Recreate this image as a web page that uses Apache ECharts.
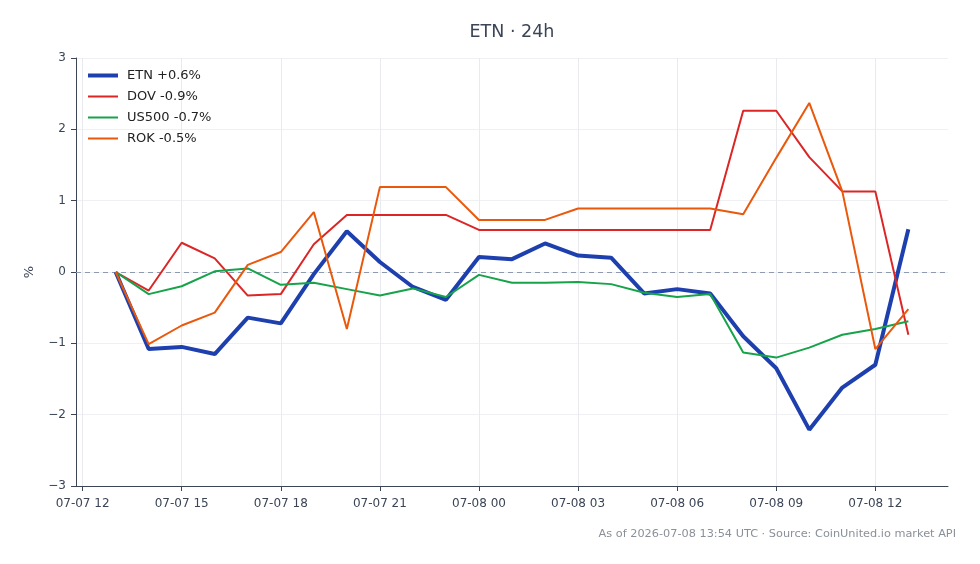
<!DOCTYPE html>
<html>
<head>
<meta charset="utf-8">
<script src="https://cdn.jsdelivr.net/npm/echarts@6/dist/echarts.min.js"></script>
<style>
html,body{margin:0;padding:0;background:#fff;}
#chart{width:980px;height:564px;}
</style>
</head>
<body>
<div id="chart"></div>
<script>
// Hourly timestamps (UTC)
const times = [
  '2026-07-07T13:00:00Z','2026-07-07T14:00:00Z','2026-07-07T15:00:00Z','2026-07-07T16:00:00Z',
  '2026-07-07T17:00:00Z','2026-07-07T18:00:00Z','2026-07-07T19:00:00Z','2026-07-07T20:00:00Z',
  '2026-07-07T21:00:00Z','2026-07-07T22:00:00Z','2026-07-07T23:00:00Z','2026-07-08T00:00:00Z',
  '2026-07-08T01:00:00Z','2026-07-08T02:00:00Z','2026-07-08T03:00:00Z','2026-07-08T04:00:00Z',
  '2026-07-08T05:00:00Z','2026-07-08T06:00:00Z','2026-07-08T07:00:00Z','2026-07-08T08:00:00Z',
  '2026-07-08T09:00:00Z','2026-07-08T10:00:00Z','2026-07-08T11:00:00Z','2026-07-08T12:00:00Z',
  '2026-07-08T13:00:00Z'
];
const etn   = [0,-1.08,-1.05,-1.15,-0.64,-0.72,-0.03,0.57,0.14,-0.21,-0.39,0.21,0.18,0.40,0.23,0.20,-0.30,-0.24,-0.30,-0.90,-1.35,-2.21,-1.62,-1.30,0.60];
const dov   = [0,-0.26,0.41,0.19,-0.33,-0.31,0.39,0.80,0.80,0.80,0.80,0.59,0.59,0.59,0.59,0.59,0.59,0.59,0.59,2.26,2.26,1.61,1.13,1.13,-0.88];
const us500 = [0,-0.31,-0.20,0.01,0.05,-0.18,-0.15,-0.24,-0.33,-0.23,-0.35,-0.04,-0.15,-0.15,-0.14,-0.17,-0.29,-0.35,-0.31,-1.13,-1.20,-1.06,-0.88,-0.80,-0.69];
const rok   = [0,-1.01,-0.75,-0.57,0.10,0.28,0.84,-0.80,1.19,1.19,1.19,0.73,0.73,0.73,0.89,0.89,0.89,0.89,0.89,0.81,1.60,2.37,1.13,-1.08,-0.52];
const seriesNames = ['ETN +0.6%','DOV -0.9%','US500 -0.7%','ROK -0.5%'];
const xTickLabels = ['07-07 12','07-07 15','07-07 18','07-07 21','07-08 00','07-08 03','07-08 06','07-08 09','07-08 12'];
const xTickTimes = ['2026-07-07T12:00:00Z','2026-07-07T15:00:00Z','2026-07-07T18:00:00Z','2026-07-07T21:00:00Z','2026-07-08T00:00:00Z','2026-07-08T03:00:00Z','2026-07-08T06:00:00Z','2026-07-08T09:00:00Z','2026-07-08T12:00:00Z'];
const yTicks = [-3,-2,-1,0,1,2,3];

// convert to hours since 2026-07-07 00:00 UTC
const BASE = Date.parse('2026-07-07T00:00:00Z');
const toH = t => (Date.parse(t) - BASE) / 3600000;
const hs = times.map(toH);
const tickHs = xTickTimes.map(toH);
const span = hs[hs.length-1] - hs[0];
const xMin = hs[0] - span*0.05;
const xMax = hs[hs.length-1] + span*0.05;
const pair = arr => arr.map((v,i) => [hs[i], v]);

const FONT = 'DejaVu Sans';
const colors = ['#1e40af','#dc2626','#16a34a','#ea580c'];
const widths = [4,2,2,2];
const datas = [etn,dov,us500,rok];

const chart = echarts.init(document.getElementById('chart'), null, {renderer:'canvas'});
chart.setOption({
  animation:false,
  textStyle:{fontFamily:FONT},
  legend:{
    orient:'vertical', left:81, top:64, itemWidth:30, itemHeight:14, itemGap:8,
    itemStyle:{opacity:0},
    textStyle:{fontFamily:FONT,fontSize:13,color:'#222',padding:[0,0,0,4]},
    data:seriesNames.map((n,i)=>({name:n, lineStyle:{width:widths[i], color:colors[i]}, itemStyle:{opacity:0}}))
  },
  grid:{left:76,right:32,top:58,bottom:78,containLabel:false},
  xAxis:{
    type:'value', min:xMin, max:xMax,
    axisLine:{show:true,onZero:false,lineStyle:{color:'#3b4556',width:1}},
    axisTick:{show:true,length:5,customValues:tickHs,lineStyle:{color:'#3b4556'}},
    axisLabel:{customValues:tickHs,margin:12,fontFamily:FONT,fontSize:12,color:'#3b4556',
      formatter:function(v){let i=-1;tickHs.forEach((t,k)=>{if(Math.abs(t-v)<1e-6)i=k;});return i>=0?xTickLabels[i]:'';}},
    splitLine:{show:true,lineStyle:{color:'#e8eaef',width:1}}
  },
  yAxis:{
    type:'value', min:-3, max:3, interval:1,
    name:'%', nameLocation:'middle', nameGap:40, nameRotate:90,
    nameTextStyle:{fontFamily:FONT,fontSize:13,color:'#3b4556'},
    axisLine:{show:true,lineStyle:{color:'#3b4556',width:1}},
    axisTick:{show:true,length:5,lineStyle:{color:'#3b4556'}},
    axisLabel:{margin:10,fontFamily:FONT,fontSize:12,color:'#3b4556',
      formatter:function(v){return yTicks.indexOf(v)>=0?String(v).replace('-','\u2212'):'';}},
    splitLine:{show:true,lineStyle:{color:'#eef0f3',width:1}}
  },
  series: datas.map((d,i)=>({
    name:seriesNames[i], type:'line', data:pair(d), symbol:'none', showSymbol:false,
    lineStyle:{color:colors[i],width:widths[i]}, itemStyle:{color:colors[i]},
    z: 2,
    markLine: i===0 ? {silent:true,symbol:'none',label:{show:false},
      lineStyle:{color:'#8e9ab0',type:[5,4],width:1.2}, data:[{yAxis:0}], z:1} : undefined
  })),
  graphic:[
    {type:'text', x:512, y:32, style:{text:'ETN · 24h', fontFamily:FONT, fontSize:17.5, fill:'#3b4556',
      textAlign:'center', textVerticalAlign:'middle'}},
    {type:'text', x:956, y:534, style:{text:'As of 2026-07-08 13:54 UTC · Source: CoinUnited.io market API',
      fontFamily:FONT,fontSize:11.3,fill:'#8a9099',textAlign:'right',textVerticalAlign:'middle'}}
  ]
});
</script>
</body>
</html>
